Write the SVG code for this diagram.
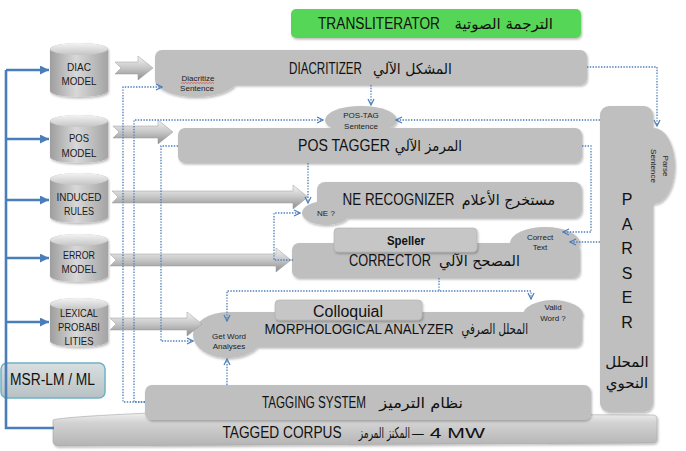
<svg xmlns="http://www.w3.org/2000/svg" width="686" height="451" viewBox="0 0 686 451">
<defs>
<style>
.box{fill:#bfbfbf}
.sub{fill:#c6c6c6;stroke:#b0b0b0;stroke-width:0.6}
.cyl{fill:url(#cylG)}
.cyltop{fill:url(#cylT)}
.barr{fill:url(#arrG);stroke:#9a9a9a;stroke-width:0.5}
.en{font-family:"Liberation Sans",Arial,sans-serif;fill:#111}
.ar{font-family:"DejaVu Sans","Noto Sans",sans-serif;fill:#111;font-size:15px;direction:rtl;text-anchor:start}
.cy{font-size:11px;fill:#1a1a1a}
.sm{font-family:"Liberation Sans",Arial,sans-serif;font-size:8px;fill:#222}
.dot{fill:none;stroke:#4a7ebb;stroke-width:1.3;stroke-dasharray:1.4 1.4}
.tree{fill:none;stroke:#4a7ebb;stroke-width:2.6}
.pl{font-family:"Liberation Sans",Arial,sans-serif;font-size:16px;fill:#111;text-anchor:middle}
</style>
<linearGradient id="cylG" x1="0" y1="0" x2="1" y2="0">
<stop offset="0" stop-color="#9e9e9e"/><stop offset="0.45" stop-color="#d8d8d8"/><stop offset="1" stop-color="#a4a4a4"/>
</linearGradient>
<linearGradient id="cylT" x1="0" y1="0" x2="0" y2="1">
<stop offset="0" stop-color="#f4f4f4"/><stop offset="1" stop-color="#c4c4c4"/>
</linearGradient>
<linearGradient id="arrG" x1="0" y1="0" x2="0" y2="1">
<stop offset="0" stop-color="#f4f4f4"/><stop offset="0.5" stop-color="#c6c6c6"/><stop offset="1" stop-color="#8e8e8e"/>
</linearGradient>
<linearGradient id="msrG" x1="0" y1="0" x2="0" y2="1">
<stop offset="0" stop-color="#d9dfe1"/><stop offset="1" stop-color="#b7c1c4"/>
</linearGradient>
<linearGradient id="corpG" x1="0" y1="0" x2="0" y2="1">
<stop offset="0" stop-color="#f0f0f0"/><stop offset="0.3" stop-color="#d2d2d2"/><stop offset="1" stop-color="#b4b4b4"/>
</linearGradient>
<filter id="sh" x="-5%" y="-10%" width="110%" height="130%">
<feDropShadow dx="1" dy="1.5" stdDeviation="1" flood-color="#000" flood-opacity="0.28"/>
</filter>
<marker id="ah" viewBox="0 0 8 8" refX="7" refY="4" markerWidth="8" markerHeight="8" markerUnits="userSpaceOnUse" orient="auto">
<path d="M1,1 L7,4 L1,7" fill="none" stroke="#4a7ebb" stroke-width="1.2"/>
</marker>
<marker id="bh" viewBox="0 0 8 8" refX="8" refY="4" markerWidth="9" markerHeight="9" markerUnits="userSpaceOnUse" orient="auto">
<path d="M0,0 L8,4 L0,8 Z" fill="#4a7ebb"/>
</marker>
</defs>
<rect width="686" height="451" fill="#ffffff"/>

<g id="transliterator">
<rect x="291" y="9" width="290" height="29" rx="5" fill="#57d657" filter="url(#sh)"/>
<text class="en" x="379" y="29" font-size="16" text-anchor="middle" textLength="122" lengthAdjust="spacingAndGlyphs">TRANSLITERATOR</text>
<text class="ar" x="553" y="29">الترجمة الصوتية</text>
</g>

<g id="tagged-corpus">
<path d="M53,420 Q60,417 150,413 L654,415 Q657,416 657,418 L657,440 Q656,443 652,443 L58,446 Q54,446 53,442 Z" fill="url(#corpG)" stroke="#a8a8a8" stroke-width="0.6" filter="url(#sh)"/>
<text class="en" x="282" y="438" font-size="16" text-anchor="middle" textLength="119" lengthAdjust="spacingAndGlyphs">TAGGED CORPUS</text>
<text class="ar" transform="translate(410,438) scale(0.6,1)" x="0" y="0">المكنز المرمز</text>
<text class="en" x="412" y="438" font-size="15" textLength="73" lengthAdjust="spacingAndGlyphs">– 4 MW</text>
</g>

<g id="parser">
<g filter="url(#sh)">
<rect class="box" x="600" y="106" width="53" height="306" rx="9"/>
<ellipse class="box" cx="654" cy="166" rx="21" ry="38"/>
</g>
<text class="sm" transform="translate(663,166) rotate(90)" text-anchor="middle" font-size="8">Parse</text>
<text class="sm" transform="translate(651,166) rotate(90)" text-anchor="middle" font-size="8">Sentence</text>
<text class="pl" x="627" y="205">P</text>
<text class="pl" x="627" y="230">A</text>
<text class="pl" x="627" y="254">R</text>
<text class="pl" x="627" y="279">S</text>
<text class="pl" x="627" y="303">E</text>
<text class="pl" x="627" y="328">R</text>
<text class="ar" x="627" y="367" style="text-anchor:middle">المحلل</text>
<text class="ar" x="627" y="388" style="text-anchor:middle">النحوي</text>
</g>

<g id="tagging-system">
<rect class="box" x="145" y="385" width="446" height="35" rx="7" filter="url(#sh)"/>
<text class="en" x="314" y="408" font-size="16" text-anchor="middle" textLength="104" lengthAdjust="spacingAndGlyphs">TAGGING SYSTEM</text>
<text class="ar" transform="translate(463,408) scale(1.08,1)" x="0" y="0">نظام الترميز</text>
</g>

<g id="diacritizer">
<g filter="url(#sh)">
<rect class="box" x="155" y="50" width="432" height="35" rx="7"/>
<ellipse class="box" cx="196" cy="80" rx="41" ry="17"/>
</g>
<text class="en" x="325.5" y="74" font-size="17" text-anchor="middle" textLength="73" lengthAdjust="spacingAndGlyphs">DIACRITIZER</text>
<text class="ar" transform="translate(452,74) scale(0.93,1)" x="0" y="0">المشكل الآلي</text>
<text class="sm" x="198" y="81" text-anchor="middle" font-size="9">Diacritize</text>
<path d="M181,83.5 l1.5,-1 l1.5,1 l1.5,-1 l1.5,1 l1.5,-1 l1.5,1 l1.5,-1 l1.5,1 l1.5,-1 l1.5,1 l1.5,-1 l1.5,1 l1.5,-1 l1.5,1 l1.5,-1 l1.5,1 l1.5,-1 l1.5,1 l1.5,-1 l1.5,1 l1.5,-1 l1.5,1" fill="none" stroke="#e04040" stroke-width="0.7"/>
<text class="sm" x="197" y="91" text-anchor="middle" font-size="9">Sentence</text>
</g>

<g id="pos-tagger">
<g filter="url(#sh)">
<rect class="box" x="178" y="128" width="404" height="35" rx="7"/>
<ellipse class="box" cx="361" cy="120" rx="36" ry="14"/>
</g>
<text class="sm" x="361" y="118" text-anchor="middle">POS-TAG</text>
<text class="sm" x="361" y="129" text-anchor="middle">Sentence</text>
<text class="en" x="344" y="151" font-size="17" text-anchor="middle" textLength="92" lengthAdjust="spacingAndGlyphs">POS TAGGER</text>
<text class="ar" transform="translate(462,151) scale(0.88,1)" x="0" y="0">المرمز الآلي</text>
</g>

<g id="ne-recognizer">
<g filter="url(#sh)">
<rect class="box" x="317" y="182" width="265" height="36" rx="8"/>
<ellipse class="box" cx="326" cy="213" rx="24" ry="12"/>
</g>
<text class="sm" x="326" y="216" text-anchor="middle" font-size="8.5">NE ?</text>
<text class="en" x="398.5" y="205" font-size="17" text-anchor="middle" textLength="112" lengthAdjust="spacingAndGlyphs">NE RECOGNIZER</text>
<text class="ar" transform="translate(555,205) scale(0.95,1)" x="0" y="0">مستخرج الأعلام</text>
</g>

<g id="corrector">
<g filter="url(#sh)">
<rect class="box" x="292" y="243" width="288" height="35" rx="7"/>
<ellipse class="box" cx="545" cy="243" rx="35" ry="16"/>
</g>
<rect class="sub" x="334" y="228" width="143" height="24" rx="4" filter="url(#sh)"/>
<text class="en" x="406" y="245" font-size="12" font-weight="bold" text-anchor="middle" textLength="38" lengthAdjust="spacingAndGlyphs">Speller</text>
<text class="sm" x="540" y="240" text-anchor="middle" font-size="8.5">Correct</text>
<text class="sm" x="540" y="250" text-anchor="middle" font-size="8.5">Text</text>
<text class="en" x="390" y="266" font-size="17" text-anchor="middle" textLength="82" lengthAdjust="spacingAndGlyphs">CORRECTOR</text>
<text class="ar" transform="translate(520,266) scale(0.96,1)" x="0" y="0">المصحح الآلي</text>
</g>

<g id="morphological-analyzer">
<g filter="url(#sh)">
<rect class="box" x="225" y="312" width="357" height="35" rx="7"/>
<ellipse class="box" cx="228" cy="335" rx="35" ry="23"/>
<ellipse class="box" cx="553" cy="315" rx="30" ry="15"/>
</g>
<rect class="sub" x="275" y="300" width="147" height="20" rx="4" filter="url(#sh)"/>
<text class="en" x="348" y="317" font-size="16" text-anchor="middle" textLength="70" lengthAdjust="spacingAndGlyphs">Colloquial</text>
<text class="sm" x="553" y="310" text-anchor="middle">Valid</text>
<text class="sm" x="553" y="321" text-anchor="middle">Word ?</text>
<text class="sm" x="229" y="339" text-anchor="middle">Get Word</text>
<text class="sm" x="229" y="349" text-anchor="middle">Analyses</text>
<text class="en" x="359" y="334" font-size="15" text-anchor="middle" textLength="189" lengthAdjust="spacingAndGlyphs">MORPHOLOGICAL ANALYZER</text>
<text class="ar" transform="translate(528,334) scale(0.68,1)" x="0" y="0">المحلل الصرفي</text>
</g>

<g id="diac-model">
<path class="cyl" d="M50,49 A29,6 0 0 1 108,49 V91 A29,6 0 0 1 50,91 Z" filter="url(#sh)"/>
<ellipse class="cyltop" cx="79" cy="49" rx="29" ry="6"/>
<text class="en cy" x="79" y="71" text-anchor="middle" textLength="24" lengthAdjust="spacingAndGlyphs">DIAC</text>
<text class="en cy" x="79" y="85" text-anchor="middle" textLength="35" lengthAdjust="spacingAndGlyphs">MODEL</text>
</g>
<g id="pos-model">
<path class="cyl" d="M50,121 A29,6 0 0 1 108,121 V157 A29,6 0 0 1 50,157 Z" filter="url(#sh)"/>
<ellipse class="cyltop" cx="79" cy="121" rx="29" ry="6"/>
<text class="en cy" x="79" y="142" text-anchor="middle" textLength="20" lengthAdjust="spacingAndGlyphs">POS</text>
<text class="en cy" x="79" y="157" text-anchor="middle" textLength="35" lengthAdjust="spacingAndGlyphs">MODEL</text>
</g>
<g id="induced-rules">
<path class="cyl" d="M50,179 A29,6 0 0 1 108,179 V217 A29,6 0 0 1 50,217 Z" filter="url(#sh)"/>
<ellipse class="cyltop" cx="79" cy="179" rx="29" ry="6"/>
<text class="en cy" x="79" y="201" text-anchor="middle" textLength="45" lengthAdjust="spacingAndGlyphs">INDUCED</text>
<text class="en cy" x="79" y="215" text-anchor="middle" textLength="30" lengthAdjust="spacingAndGlyphs">RULES</text>
</g>
<g id="error-model">
<path class="cyl" d="M50,240 A29,6 0 0 1 108,240 V276 A29,6 0 0 1 50,276 Z" filter="url(#sh)"/>
<ellipse class="cyltop" cx="79" cy="240" rx="29" ry="6"/>
<text class="en cy" x="79" y="259" text-anchor="middle" textLength="32" lengthAdjust="spacingAndGlyphs">ERROR</text>
<text class="en cy" x="79" y="273" text-anchor="middle" textLength="35" lengthAdjust="spacingAndGlyphs">MODEL</text>
</g>
<g id="lexical-probabilities">
<path class="cyl" d="M50,304 A29,6 0 0 1 108,304 V341 A29,6 0 0 1 50,341 Z" filter="url(#sh)"/>
<ellipse class="cyltop" cx="79" cy="304" rx="29" ry="6"/>
<text class="en cy" x="79" y="317" text-anchor="middle" textLength="38" lengthAdjust="spacingAndGlyphs">LEXICAL</text>
<text class="en cy" x="79" y="331" text-anchor="middle" textLength="42" lengthAdjust="spacingAndGlyphs">PROBABI</text>
<text class="en cy" x="79" y="345" text-anchor="middle" textLength="29" lengthAdjust="spacingAndGlyphs">LITIES</text>
</g>

<g id="msr-lm">
<rect x="1" y="363" width="104" height="35" rx="6" fill="url(#msrG)" stroke="#6db2c6" stroke-width="1.5"/>
<text class="en" x="52.5" y="385" font-size="16" text-anchor="middle" textLength="85" lengthAdjust="spacingAndGlyphs">MSR-LM / ML</text>
</g>

<g id="block-arrows">
<path class="barr" d="M115,62 L138,62 L138,56 L153,68 L138,80 L138,74 L115,74 L121,68 Z"/>
<path class="barr" d="M113,126 L158,126 L158,120 L173,132 L158,144 L158,138 L113,138 L119,132 Z"/>
<path class="barr" d="M112,191 L293,191 L293,185 L308,197 L293,209 L293,203 L112,203 L118,197 Z"/>
<path class="barr" d="M110,254 L276,254 L276,248 L291,260 L276,272 L276,266 L110,266 L116,260 Z"/>
<path class="barr" d="M110,318 L187,318 L187,312 L202,324 L187,336 L187,330 L110,330 L116,324 Z"/>
</g>

<g id="connectors">
<path class="tree" d="M6,70 V428 H54"/>
<path class="tree" d="M6,70 H49" marker-end="url(#bh)"/>
<path class="tree" d="M6,139 H49" marker-end="url(#bh)"/>
<path class="tree" d="M6,200 H49" marker-end="url(#bh)"/>
<path class="tree" d="M6,258 H49" marker-end="url(#bh)"/>
<path class="tree" d="M6,322 H49" marker-end="url(#bh)"/>
<path class="dot" d="M587,67 H657 V126" marker-end="url(#ah)"/>
<path class="dot" d="M371,85 V105" marker-end="url(#ah)"/>
<path class="dot" d="M600,120 H396" marker-end="url(#ah)"/>
<path class="dot" d="M582,146 H591 V232 H563" marker-end="url(#ah)"/>
<path class="dot" d="M600,242 H570" marker-end="url(#ah)"/>
<path class="dot" d="M439,278 V291 H531 V299" marker-end="url(#ah)"/>
<path class="dot" d="M439,291 H227 V321" marker-end="url(#ah)"/>
<path class="dot" d="M227,385 V359" marker-end="url(#ah)"/>
<path class="dot" d="M145,402 H123 V87 H162" marker-end="url(#ah)"/>
<path class="dot" d="M145,402 H134 V120 H323" marker-end="url(#ah)"/>
<path class="dot" d="M178,146 H161 V341 H193" marker-end="url(#ah)"/>
<path class="dot" d="M308,163 V203" marker-end="url(#ah)"/>
<path class="dot" d="M293,260 H274 V213 H300" marker-end="url(#ah)"/>
</g>
</svg>
